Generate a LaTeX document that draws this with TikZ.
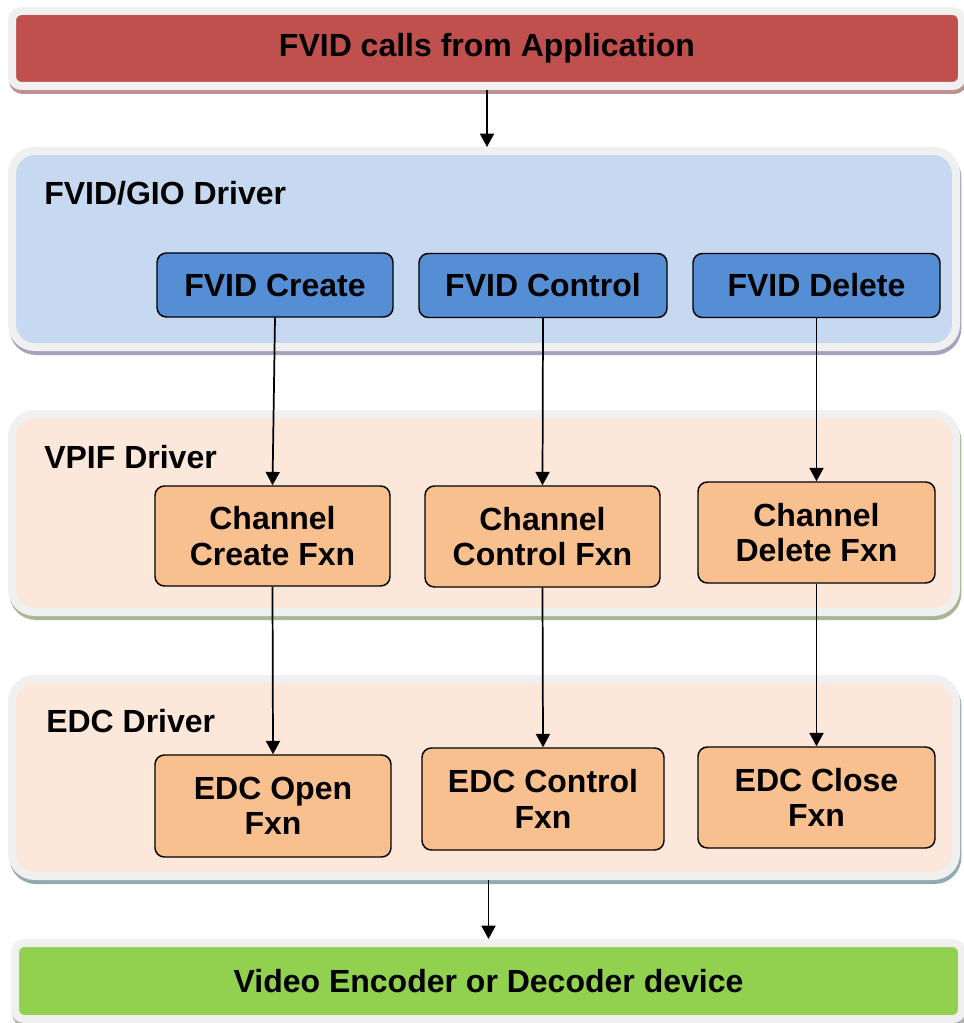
\documentclass[tikz,border=0pt]{standalone}
\usepackage{fontspec}
\setmainfont{Liberation Sans}
\usetikzlibrary{arrows.meta}
\usetikzlibrary{shadows}

\definecolor{framegrey}{HTML}{F0F0F0}
\definecolor{appred}{HTML}{C0504D}
\definecolor{appshade}{HTML}{B99291}
\definecolor{gioblue}{HTML}{C6D9F0}
\definecolor{gioshade}{HTML}{A6A2BD}
\definecolor{fvidblue}{HTML}{558ED5}
\definecolor{peach}{HTML}{FCE8DA}
\definecolor{vpifshade}{HTML}{A7B795}
\definecolor{edcshade}{HTML}{90A9B3}
\definecolor{fxnorange}{HTML}{F9C08F}
\definecolor{devgreen}{HTML}{92D050}
\definecolor{devshade}{HTML}{B0B0B0}

\tikzset{
  layer/.style={draw=framegrey, line width=6pt, inner sep=0pt, rounded corners=17pt,
    general shadow={fill=#1, draw=#1, line width=6pt, shadow xshift=1pt, shadow yshift=-3pt}},
  bar/.style={layer=#1, rounded corners=7pt, font=\bfseries\fontsize{24}{26.5}\selectfont},
  fxn/.style={draw=black, line width=1.1pt, rounded corners=7pt, inner sep=0pt, align=center,
    font=\bfseries\fontsize{24}{26.5}\selectfont},
  layertitle/.style={anchor=west, inner sep=0pt, font=\bfseries\fontsize{24}{26.5}\selectfont},
  call/.style={-{Triangle[width=10.5pt,length=10pt]}, line width=1.3pt},
}

\begin{document}
\begin{tikzpicture}[x=0.75pt,y=0.75pt,yscale=-1,xscale=1]

    \useasboundingbox (0,0) rectangle (963,1023);

    %Bar: application
    \node [bar=appshade, fill=appred, minimum width=712.5pt, minimum height=56.25pt] (app) at (487,48.5) {FVID calls from Application};

    %Panel: FVID/GIO driver
    \node [layer=gioshade, fill=gioblue, minimum width=708pt, minimum height=147pt] (gio) at (484,249) {};
    \node [layertitle] (giotitle) at (44,193) {FVID/GIO Driver};

    %Panel: VPIF driver
    \node [layer=vpifshade, fill=peach, minimum width=708pt, minimum height=148.5pt] (vpif) at (484,513) {};
    \node [layertitle] (vpiftitle) at (44,457) {VPIF Driver};

    %Panel: EDC driver
    \node [layer=edcshade, fill=peach, minimum width=708pt, minimum height=147.75pt] (edc) at (484,777.5) {};
    \node [layertitle] (edctitle) at (46,721) {EDC Driver};

    %Bar: device
    \node [bar=devshade, fill=devgreen, minimum width=710.25pt, minimum height=57pt] (dev) at (488.5,981) {Video Encoder or Decoder device};

    %Boxes: FVID calls
    \node [fxn, fill=fvidblue, minimum width=177pt, minimum height=48pt] (fcreate) at (275,285) {FVID Create};
    \node [fxn, fill=fvidblue, minimum width=186pt, minimum height=48pt] (fcontrol) at (543,285.5) {FVID Control};
    \node [fxn, fill=fvidblue, minimum width=185.25pt, minimum height=48pt] (fdelete) at (816.5,285.5) {FVID Delete};

    %Boxes: channel functions
    \node [fxn, fill=fxnorange, minimum width=176.25pt, minimum height=75pt] (ccreate) at (272.5,536) {Channel\\Create Fxn};
    \node [fxn, fill=fxnorange, minimum width=176.25pt, minimum height=75.75pt] (ccontrol) at (542.5,536.5) {Channel\\Control Fxn};
    \node [fxn, fill=fxnorange, minimum width=177.75pt, minimum height=75.75pt] (cdelete) at (816.5,532.5) {Channel\\Delete Fxn};

    %Boxes: EDC functions
    \node [fxn, fill=fxnorange, minimum width=177pt, minimum height=76.5pt] (eopen) at (273,806) {EDC Open\\Fxn};
    \node [fxn, fill=fxnorange, minimum width=181.5pt, minimum height=76.5pt] (econtrol) at (543,799) {EDC Control\\Fxn};
    \node [fxn, fill=fxnorange, minimum width=177.75pt, minimum height=75.75pt] (eclose) at (816.5,797.5) {EDC Close\\Fxn};

    %Arrows
    \draw [call] (app.south) -- (app.south |- gio.north);
    \draw [call] (fcreate.south) -- (ccreate.north);
    \draw [call] (fcontrol.south) -- (ccontrol.north);
    \draw [call] (fdelete.south) -- (cdelete.north);
    \draw [call] (ccreate.south) -- (eopen.north);
    \draw [call] (ccontrol.south) -- (econtrol.north);
    \draw [call] (cdelete.south) -- (eclose.north);
    \draw [call] (edc.south -| dev.north) -- (dev.north);

\end{tikzpicture}
\end{document}
